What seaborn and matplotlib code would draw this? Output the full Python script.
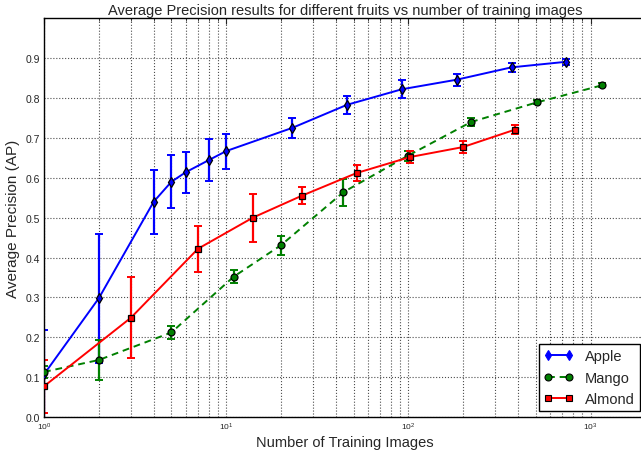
import matplotlib
matplotlib.use("Agg")
import matplotlib.pyplot as plt
import pandas as pd
import seaborn as sns
from matplotlib.lines import Line2D
from matplotlib.ticker import LogLocator, FixedLocator

# values
apple_x = [1, 2, 4, 5, 6, 8, 10, 23, 46, 92, 184, 368, 736]
apple_ap = [0.107, 0.298, 0.540, 0.590, 0.614, 0.644, 0.667, 0.725, 0.783, 0.822, 0.846, 0.877, 0.891]
apple_err = [0.110, 0.162, 0.080, 0.066, 0.051, 0.053, 0.044, 0.024, 0.023, 0.022, 0.015, 0.011, 0.008]

mango_x = [1, 2, 5, 11, 20, 44, 99, 221, 506, 1155]
mango_ap = [0.113, 0.143, 0.212, 0.352, 0.431, 0.564, 0.655, 0.740, 0.789, 0.832]
mango_err = [0.015, 0.049, 0.017, 0.017, 0.024, 0.034, 0.012, 0.009, 0.005, 0.005]

almond_x = [1, 3, 7, 14, 26, 52, 102, 199, 386]
almond_ap = [0.077, 0.249, 0.422, 0.500, 0.555, 0.612, 0.652, 0.677, 0.721]
almond_err = [0.066, 0.102, 0.058, 0.060, 0.021, 0.021, 0.015, 0.016, 0.011]

fruits = ["Apple", "Mango", "Almond"]
colors = {"Apple": "#0000ff", "Mango": "#008000", "Almond": "#ff0000"}
markers = {"Apple": "d", "Mango": "o", "Almond": "s"}
dashes = {"Apple": "", "Mango": (3.5, 2.5), "Almond": ""}

df = pd.concat([
    pd.DataFrame({"images": apple_x, "ap": apple_ap, "err": apple_err, "fruit": "Apple"}),
    pd.DataFrame({"images": mango_x, "ap": mango_ap, "err": mango_err, "fruit": "Mango"}),
    pd.DataFrame({"images": almond_x, "ap": almond_ap, "err": almond_err, "fruit": "Almond"}),
], ignore_index=True)

sns.set_style("white")
plt.rcParams["font.family"] = ["Liberation Sans", "DejaVu Sans"]
plt.rcParams["mathtext.default"] = "regular"

fig = plt.figure(figsize=(6.41, 4.56), dpi=100)
ax = fig.add_axes([44 / 641, 38 / 456, 601.5 / 641, 398.7 / 456])

# error bars first, lines and markers drawn on top
for f in fruits:
    d = df[df.fruit == f]
    ax.errorbar(d.images, d.ap, yerr=d.err, fmt="none", ecolor=colors[f],
                elinewidth=1.6, capsize=3, capthick=1.4, zorder=2)

sns.lineplot(
    data=df, x="images", y="ap", hue="fruit", style="fruit",
    hue_order=fruits, style_order=fruits,
    palette=colors, markers=markers, dashes=dashes,
    estimator=None, sort=True, legend=False, ax=ax,
    linewidth=1.4, markersize=5, markeredgecolor="k", markeredgewidth=0.9,
    zorder=3,
)

ax.set_xscale("log")
ax.set_xlim(1, 2000)
ax.set_ylim(0, 1.0)
ax.yaxis.set_major_locator(FixedLocator([i / 10 for i in range(10)]))
ax.set_yticklabels(["%.1f" % (i / 10) for i in range(10)])
ax.xaxis.set_major_locator(LogLocator(base=10))
ax.xaxis.set_minor_locator(LogLocator(base=10, subs=range(2, 10)))

ax.grid(True, which="major", color="0.3", linestyle=":", linewidth=0.8)
ax.grid(True, which="minor", axis="x", color="0.3", linestyle=":", linewidth=0.8)

ax.tick_params(axis="both", which="both", direction="in", top=True, right=True)
ax.tick_params(axis="both", which="major", length=4, width=0.8)
ax.tick_params(axis="both", which="minor", length=2, width=0.6)
ax.tick_params(axis="y", labelsize=7.5, pad=3)
ax.tick_params(axis="x", labelsize=6, pad=3)
for s in ax.spines.values():
    s.set_color("k")
    s.set_linewidth(1.0)

ax.set_title("Average Precision results for different fruits vs number of training images",
             fontsize=10.5, pad=3)
ax.set_xlabel("Number of Training Images", fontsize=10.5, labelpad=2)
ax.set_ylabel("Average Precision (AP)", fontsize=11, labelpad=4)

handles = [
    Line2D([], [], color=colors[f], marker=markers[f], markersize=5,
           markerfacecolor=colors[f], markeredgecolor="k" if f != "Apple" else colors[f],
           markeredgewidth=0.8, linewidth=1.4,
           linestyle="--" if f == "Mango" else "-",
           dashes=dashes[f] if f == "Mango" else ())
    for f in fruits
]
leg = ax.legend(handles, fruits, loc="lower right", numpoints=2, fontsize=10.5,
                frameon=True, fancybox=False, framealpha=1, edgecolor="k",
                borderaxespad=0.4, borderpad=0.35, handlelength=2.0,
                handletextpad=0.8, labelspacing=0.5)
leg.get_frame().set_linewidth(1.0)

fig.savefig("out.png", dpi=100)
